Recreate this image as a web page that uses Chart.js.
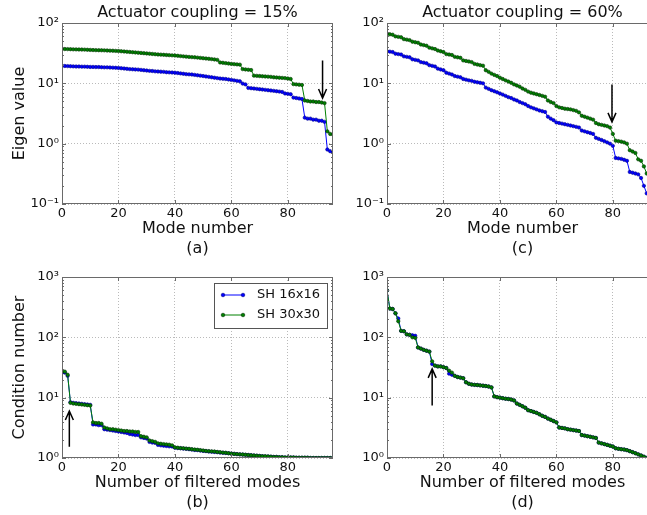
<!DOCTYPE html>
<html>
<head>
<meta charset="utf-8">
<script src="https://cdn.jsdelivr.net/npm/chart.js@4/dist/chart.umd.min.js"></script>
<style>
html, body { margin: 0; padding: 0; background: #fff; width: 647px; height: 515px; overflow: hidden; }
.panel { position: absolute; }
</style>
</head>
<body>
<div class="panel" style="left:0;top:0"><canvas id="chartA" width="346" height="259"></canvas></div>
<div class="panel" style="left:325px;top:0"><canvas id="chartC" width="346" height="259"></canvas></div>
<div class="panel" style="left:0;top:254px"><canvas id="chartB" width="346" height="259"></canvas></div>
<div class="panel" style="left:325px;top:254px"><canvas id="chartD" width="346" height="259"></canvas></div>
<script>
// --- data (index = mode number / number of filtered modes) ---
var seriesNames = ['SH 16x16', 'SH 30x30'];
var xTicks = [0, 20, 40, 60, 80];

// (a) eigen values, actuator coupling 15%
var eigA16 = [19.5, 19.4, 19.3, 19.2,
  19.1, 19.0, 19.0, 18.9, 18.9, 18.8, 18.7, 18.7,
  18.6, 18.6, 18.5, 18.4, 18.4, 18.3, 18.2, 18.1,
  18.0, 17.8, 17.6, 17.4, 17.2, 17.1, 17.0, 16.9, 16.7, 16.5,
  16.3, 16.1, 16.0, 15.8, 15.7, 15.6, 15.5, 15.3, 15.2, 15.1,
  15.0, 14.8, 14.6, 14.4, 14.2, 14.1, 14.0, 13.8, 13.6, 13.4,
  13.2, 13.0, 12.8, 12.6, 12.4, 12.2, 12.0, 11.9, 11.8, 11.6,
  11.4, 11.2, 11.0, 10.8,
  9.9, 9.6,
  8.4, 8.3, 8.2, 8.1, 8.0, 7.9, 7.8, 7.7, 7.6, 7.5, 7.4, 7.3, 7.2,
  6.8, 6.7, 6.6,
  5.8, 5.7, 5.6, 5.5,
  2.7, 2.6, 2.6, 2.5, 2.5, 2.4, 2.4, 2.3,
  0.8, 0.75, 0.73];
var eigA30 = [37.2, 37.0, 36.9, 36.8,
  36.6, 36.5, 36.4, 36.3, 36.2, 36.0, 35.8, 35.6,
  35.5, 35.4, 35.3, 35.2, 35.0, 34.8, 34.7, 34.5,
  34.3, 34.0, 33.7, 33.4, 33.1, 32.8, 32.5, 32.2, 31.9, 31.6,
  31.3, 31.0, 30.7, 30.4, 30.1, 29.9, 29.7, 29.5, 29.3, 29.1,
  28.9, 28.6, 28.3, 28.0, 27.7, 27.4, 27.2, 27.0, 26.7, 26.4,
  26.1, 25.8, 25.5, 25.2, 24.9, 24.5,
  22.2, 21.9, 21.6, 21.3, 21.0, 20.8, 20.6, 20.4,
  17.2, 17.0, 16.8, 16.6,
  13.4, 13.3, 13.2, 13.1, 13.0, 12.9, 12.8, 12.6, 12.5, 12.4, 12.3, 12.2, 12.0, 11.8,
  9.7, 9.6, 9.5, 9.4,
  5.2, 5.1, 5.0, 5.0, 4.9, 4.9, 4.8, 4.7,
  1.6, 1.45, 1.42];

// (c) eigen values, actuator coupling 60%
var eigC16 = [34, 33.5, 33, 31, 30.5, 30, 28, 27.5, 27, 25, 24.5, 24,
  22.5, 22, 21.5, 20, 19.5, 19, 17.5, 17, 16.5, 15, 14.5, 14,
  13.2, 12.9, 12.6, 11.8, 11.5, 11.2, 11.0, 10.6, 10.4, 10.2, 10.0,
  8.5, 8.1, 7.7, 7.4, 7.1, 6.8, 6.5, 6.2, 5.9, 5.7, 5.4, 5.2, 4.9, 4.7, 4.5,
  4.2, 4.0, 3.85, 3.7, 3.55, 3.45, 3.35, 2.8, 2.6, 2.45,
  2.25, 2.2, 2.15, 2.1, 2.05, 2.0, 1.95, 1.9, 1.85,
  1.65, 1.6, 1.55, 1.5, 1.45, 1.25, 1.2, 1.15, 1.1, 1.05, 1.0,
  0.92, 0.58, 0.57, 0.56, 0.54, 0.52, 0.34, 0.33, 0.32, 0.31, 0.27, 0.2, 0.15];
var eigC30 = [66, 65, 64, 60, 59, 58, 54, 53, 52, 49, 48, 47,
  44, 43, 42, 39, 38, 37, 35, 34, 33, 30.5, 30, 29.5,
  27.5, 27, 26.5, 24, 23.5, 23, 22.5, 21, 20.5, 20, 19.6,
  16.5, 15.5, 14.5, 13.8, 13.2, 12.4, 11.8, 11.2, 10.7, 10.2, 9.6, 9.2, 8.8, 8.2, 7.8,
  7.3, 7.0, 6.8, 6.6, 6.4, 6.2, 6.0, 5.2, 4.9, 4.7,
  4.2, 4.0, 3.9, 3.8, 3.75, 3.7, 3.6, 3.5, 3.3,
  2.9, 2.8, 2.7, 2.6, 2.5, 2.2, 2.1, 2.05, 2.0, 1.95, 1.85,
  1.45, 1.12, 1.10, 1.08, 1.05, 1.0, 0.78, 0.74, 0.70, 0.55, 0.52, 0.42, 0.32];

// (b) condition number, coupling 15%
var condB16 = [26, 26, 23,
  8.4, 8.2, 8.1, 8.0, 7.9, 7.8, 7.7, 7.6,
  3.6, 3.6, 3.5, 3.5,
  3.0, 2.95, 2.9, 2.85, 2.8, 2.75,
  2.7, 2.65, 2.6, 2.5, 2.45, 2.4, 2.4,
  2.2, 2.15, 2.1,
  1.85, 1.8, 1.78,
  1.65, 1.62, 1.6, 1.58, 1.56, 1.55,
  1.48, 1.46, 1.45, 1.43, 1.42, 1.4, 1.38, 1.36, 1.35, 1.33,
  1.31, 1.3, 1.28, 1.27, 1.26, 1.25, 1.23, 1.22, 1.21, 1.2,
  1.18, 1.17, 1.16, 1.15, 1.14, 1.13, 1.12, 1.11, 1.1, 1.09,
  1.08, 1.07, 1.06, 1.06, 1.05, 1.04, 1.04, 1.03, 1.03, 1.02,
  1.02, 1.02, 1.02, 1.01, 1.01, 1.01, 1.01, 1.01, 1.0, 1.0, 1.0, 1.0, 1.0, 1.0, 1.0, 1.0, 1.0];
var condB30 = [27, 27, 24,
  8.2, 8.0, 7.9, 7.8, 7.7, 7.6, 7.5, 7.4,
  3.9, 3.8, 3.8, 3.7,
  3.2, 3.1, 3.0, 3.0, 2.95, 2.9,
  2.85, 2.8, 2.8, 2.75, 2.75, 2.7, 2.7,
  2.3, 2.25, 2.2,
  1.95, 1.9, 1.85,
  1.75, 1.72, 1.7, 1.68, 1.66, 1.62,
  1.5, 1.48, 1.46, 1.45, 1.43, 1.42, 1.4, 1.38, 1.37, 1.35,
  1.33, 1.31, 1.3, 1.29, 1.28, 1.26, 1.25, 1.23, 1.22, 1.2,
  1.18, 1.17, 1.16, 1.15, 1.14, 1.13, 1.12, 1.11, 1.1, 1.09,
  1.08, 1.07, 1.07, 1.06, 1.05, 1.04, 1.04, 1.03, 1.03, 1.02,
  1.02, 1.02, 1.02, 1.01, 1.01, 1.01, 1.01, 1.01, 1.0, 1.0, 1.0, 1.0, 1.0, 1.0, 1.0, 1.0, 1.0];

// (d) condition number, coupling 60%
var condD16 = [600, 300, 295, 250, 205, 128, 126,
  112, 110, 108, 106,
  68, 65, 62, 60, 58,
  36, 34, 33, 33, 32, 31,
  25, 24, 23, 22, 21.5, 21,
  18, 17,
  16.5, 16.3, 16.2, 16.0, 15.8, 15.6, 15.3, 14.8,
  10.5, 10.2, 10.0, 9.8, 9.6, 9.5, 9.3, 9.0,
  8.0, 7.6, 7.2, 6.8,
  6.2, 6.0, 5.8, 5.6, 5.3, 5.0, 4.8,
  4.5, 4.3, 4.1, 3.9,
  3.2, 3.15, 3.1, 3.0, 2.95, 2.9, 2.85, 2.8,
  2.4, 2.35, 2.3, 2.25, 2.2, 2.15,
  1.8, 1.75, 1.7, 1.65, 1.6, 1.55,
  1.45, 1.42, 1.4, 1.38, 1.35, 1.3,
  1.25, 1.2, 1.15, 1.1, 1.05, 1.0];
var condD30 = [600, 300, 295, 250, 185, 128, 126,
  112, 110, 100, 98,
  68, 65, 62, 60, 58,
  40, 34, 33, 33, 32, 31,
  28, 26, 23, 22, 21.5, 21,
  18, 17,
  16.5, 16.3, 16.2, 16.0, 15.8, 15.6, 15.3, 14.8,
  10.5, 10.2, 10.0, 9.8, 9.6, 9.5, 9.3, 9.0,
  8.0, 7.6, 7.2, 6.8,
  6.2, 6.0, 5.8, 5.6, 5.3, 5.0, 4.8,
  4.5, 4.3, 4.1, 3.9,
  3.2, 3.15, 3.1, 3.0, 2.95, 2.9, 2.85, 2.8,
  2.4, 2.35, 2.3, 2.25, 2.2, 2.15,
  1.8, 1.75, 1.7, 1.65, 1.6, 1.55,
  1.45, 1.42, 1.4, 1.38, 1.35, 1.3,
  1.25, 1.2, 1.15, 1.1, 1.05, 1.0];

// arrows: [x, from, to] in data units
var arrowA = [92.3, 24, 5.7];
var arrowC = [79.7, 9.6, 2.3];
var arrowB = [2.6, 1.54, 6.0];
var arrowD = [16, 7.4, 30];

var BLUE = '#0000ff', GREEN = '#008000';
var FRAME = '#6a6a6a', GRID = '#a8a8a8';

Chart.defaults.font.family = '"DejaVu Sans", sans-serif';
Chart.defaults.color = '#111';

var sup = {'-': '\u207B', '0': '\u2070', '1': '\u00B9', '2': '\u00B2', '3': '\u00B3'};
function powLabel(v) {
  var e = Math.round(Math.log10(v));
  return '10' + String(e).split('').map(function(c) { return sup[c]; }).join('');
}

// frame, inner ticks, title, arrow and legend
var panelDecor = {
  id: 'panelDecor',
  afterDatasetsDraw: function(chart, args, o) {
    var ctx = chart.ctx, a = chart.chartArea;
    var xs = chart.scales.x, ys = chart.scales.y;
    ctx.save();
    ctx.strokeStyle = FRAME;
    ctx.lineWidth = 1;
    ctx.beginPath();
    // y ticks (major + minor), both sides
    for (var d = ys.min; d < ys.max * 1.001; d *= 10) {
      for (var k = 1; k < 10; k++) {
        var v = d * k;
        if (v > ys.max * 1.001) break;
        var py = Math.round(ys.getPixelForValue(v)) + 0.5;
        var len = k === 1 ? 4 : 2;
        ctx.moveTo(a.left, py); ctx.lineTo(a.left + len, py);
        ctx.moveTo(a.right, py); ctx.lineTo(a.right - len, py);
      }
    }
    xTicks.forEach(function(t) {
      var px = Math.round(xs.getPixelForValue(t)) + 0.5;
      ctx.moveTo(px, a.bottom); ctx.lineTo(px, a.bottom - 4);
      ctx.moveTo(px, a.top); ctx.lineTo(px, a.top + 4);
    });
    ctx.stroke();
    ctx.strokeRect(a.left + 0.5, a.top + 0.5, a.right - a.left - 1, a.bottom - a.top - 1);

    // arrow
    if (o.arrow) {
      var ax = xs.getPixelForValue(o.arrow[0]);
      var y1 = ys.getPixelForValue(o.arrow[1]);
      var y2 = ys.getPixelForValue(o.arrow[2]);
      var dir = y2 > y1 ? 1 : -1;
      ctx.strokeStyle = '#000';
      ctx.lineWidth = 1.5;
      ctx.beginPath();
      ctx.moveTo(ax, y1); ctx.lineTo(ax, y2);
      ctx.moveTo(ax - 4, y2 - dir * 9); ctx.lineTo(ax, y2); ctx.lineTo(ax + 4, y2 - dir * 9);
      ctx.stroke();
    }

    // title
    if (o.title) {
      ctx.fillStyle = '#111';
      ctx.font = '16px "DejaVu Sans"';
      ctx.textAlign = 'center';
      ctx.textBaseline = 'middle';
      ctx.fillText(o.title, (a.left + a.right) / 2, a.top - 10);
    }

    // legend
    if (o.legend) {
      var bw = 113, bh = 45;
      var bx = a.right - 6 - bw, by = a.top + 6;
      ctx.fillStyle = '#fff';
      ctx.fillRect(bx, by, bw, bh);
      ctx.strokeStyle = '#555';
      ctx.lineWidth = 1;
      ctx.strokeRect(Math.round(bx) + 0.5, Math.round(by) + 0.5, bw, bh);
      var cols = [BLUE, GREEN], edges = ['#00008b', '#003300'];
      ctx.font = '13px "DejaVu Sans"';
      ctx.textAlign = 'left';
      ctx.textBaseline = 'middle';
      for (var i = 0; i < 2; i++) {
        var ry = by + 12 + i * 20;
        ctx.strokeStyle = cols[i];
        ctx.lineWidth = 1;
        ctx.beginPath();
        ctx.moveTo(bx + 9, ry); ctx.lineTo(bx + 29, ry);
        ctx.stroke();
        [bx + 9, bx + 29].forEach(function(mx) {
          ctx.beginPath();
          ctx.arc(mx, ry, 1.8, 0, Math.PI * 2);
          ctx.fillStyle = cols[i];
          ctx.fill();
          ctx.lineWidth = 0.6;
          ctx.strokeStyle = edges[i];
          ctx.stroke();
        });
        ctx.fillStyle = '#111';
        ctx.fillText(seriesNames[i], bx + 43, ry);
      }
    }
    ctx.restore();
  }
};

function series(label, values, color, edge, order) {
  return {
    label: label,
    data: values.map(function(v, i) { return {x: i, y: v}; }),
    borderColor: color,
    backgroundColor: color,
    borderWidth: 1,
    pointRadius: 1.7,
    pointBorderWidth: 0.6,
    pointBackgroundColor: color,
    pointBorderColor: edge,
    pointHoverRadius: 0,
    tension: 0,
    order: order
  };
}

function makePanel(id, blue, green, opt) {
  var decades = [];
  for (var d = opt.yMin; d < opt.yMax * 1.001; d *= 10) decades.push(d);
  return new Chart(document.getElementById(id), {
    type: 'line',
    data: {
      datasets: [
        series(seriesNames[0], blue, BLUE, '#00008b', 1),
        series(seriesNames[1], green, GREEN, '#003300', 0)
      ]
    },
    options: {
      responsive: false,
      animation: false,
      devicePixelRatio: 1,
      layout: { padding: { top: 23, right: 13, left: 0, bottom: 0 } },
      plugins: {
        legend: { display: false },
        tooltip: { enabled: false },
        panelDecor: { title: opt.title, arrow: opt.arrow, legend: opt.legend }
      },
      scales: {
        x: {
          type: 'linear',
          min: 0,
          max: 96,
          afterBuildTicks: function(s) { s.ticks = xTicks.map(function(v) { return {value: v}; }); },
          afterFit: function(s) { s.height = 55; },
          ticks: { padding: 2, font: { size: 13 }, maxRotation: 0, autoSkip: false },
          grid: { color: GRID, lineWidth: 0.8, drawTicks: false },
          border: { display: false, dash: [1, 2] },
          title: { display: true, text: opt.xTitle, font: { size: 16, lineHeight: 1.25 }, padding: { top: 0, bottom: 0 } }
        },
        y: {
          type: 'logarithmic',
          min: opt.yMin,
          max: opt.yMax,
          afterBuildTicks: function(s) { s.ticks = decades.map(function(v) { return {value: v}; }); },
          afterFit: function(s) { s.width = 62; },
          ticks: { padding: 3, font: { size: 13 }, callback: powLabel },
          grid: { color: GRID, lineWidth: 0.8, drawTicks: false },
          border: { display: false, dash: [1, 2] },
          title: { display: !!opt.yTitle, text: opt.yTitle || '', font: { size: 16 }, padding: { top: 10, bottom: 0 } }
        }
      }
    },
    plugins: [panelDecor]
  });
}

makePanel('chartA', eigA16, eigA30, {
  yMin: 0.1, yMax: 100, title: 'Actuator coupling = 15%', yTitle: 'Eigen value',
  xTitle: ['Mode number', '(a)'], arrow: arrowA
});
makePanel('chartC', eigC16, eigC30, {
  yMin: 0.1, yMax: 100, title: 'Actuator coupling = 60%',
  xTitle: ['Mode number', '(c)'], arrow: arrowC
});
makePanel('chartB', condB16, condB30, {
  yMin: 1, yMax: 1000, yTitle: 'Condition number',
  xTitle: ['Number of filtered modes', '(b)'], arrow: arrowB, legend: true
});
makePanel('chartD', condD16, condD30, {
  yMin: 1, yMax: 1000,
  xTitle: ['Number of filtered modes', '(d)'], arrow: arrowD
});
</script>
</body>
</html>
